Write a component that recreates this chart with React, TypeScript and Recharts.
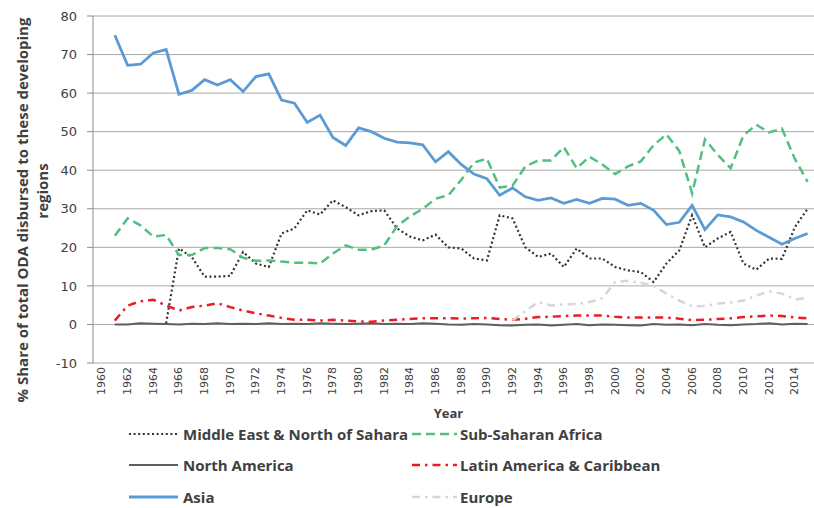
import React from 'react';
import { LineChart, Line, XAxis, YAxis, CartesianGrid } from 'recharts';

const years = [
  1961, 1962, 1963, 1964, 1965, 1966, 1967, 1968, 1969, 1970,
  1971, 1972, 1973, 1974, 1975, 1976, 1977, 1978, 1979, 1980,
  1981, 1982, 1983, 1984, 1985, 1986, 1987, 1988, 1989, 1990,
  1991, 1992, 1993, 1994, 1995, 1996, 1997, 1998, 1999, 2000,
  2001, 2002, 2003, 2004, 2005, 2006, 2007, 2008, 2009, 2010,
  2011, 2012, 2013, 2014, 2015,
];

const middleEast = [
  null, null, null, null, 0.3, 19.7, 17.5, 12.4, 12.4, 12.6,
  18.8, 15.8, 14.9, 23.6, 24.9, 29.6, 28.5, 32.2, 30.4, 28.3,
  29.4, 29.6, 24.9, 22.8, 21.8, 23.3, 20, 19.7, 17.1, 16.6,
  28.3, 27.5, 20, 17.5, 18.4, 14.9, 19.7, 17.1, 17.1, 14.9,
  14, 13.6, 11, 15.8, 19.2, 28.3, 20, 22.3, 24, 15.8,
  14.2, 17.1, 17, 25.2, 30,
];

const subSaharan = [
  23, 27.5, 25.7, 22.8, 23.2, 18, 18, 19.8, 19.8, 19.5,
  17.3, 16.5, 16.6, 16.3, 16, 16, 15.8, 18.4, 20.5, 19.4,
  19.4, 20.5, 25.5, 28, 30, 32.6, 33.5, 37.5, 42, 43,
  35.5, 36, 41, 42.5, 42.5, 46, 40.5, 43.5, 41.5, 39,
  41, 42.3, 46.5, 49.3, 45, 34, 48, 44, 40.5, 49,
  51.8, 49.8, 50.8, 43, 37,
];

const northAmerica = [
  0, 0, 0.3, 0.2, 0.1, 0, 0.2, 0.1, 0.3, 0.1,
  0.2, 0.1, 0.3, 0.1, 0.2, 0.1, 0.3, 0.2, 0.1, 0.2,
  0.3, 0.1, 0.2, 0.1, 0.3, 0.2, 0, -0.1, 0.1, 0,
  -0.2, -0.3, -0.1, 0, -0.3, -0.1, 0.1, -0.2, 0, -0.1,
  -0.2, -0.3, 0.1, -0.1, 0, -0.2, 0.1, -0.1, -0.2, 0,
  0.1, 0.3, 0, 0.2, 0.1,
];

const latinAmerica = [
  1, 4.9, 6, 6.4, 4.9, 3.6, 4.5, 4.9, 5.5, 4.5,
  3.6, 2.9, 2.3, 1.7, 1.2, 1.2, 1, 1.2, 1, 0.8,
  0.7, 1, 1.2, 1.4, 1.6, 1.6, 1.6, 1.5, 1.6, 1.7,
  1.4, 1.2, 1.5, 1.9, 2, 2.2, 2.3, 2.3, 2.3, 2,
  1.8, 1.8, 1.8, 1.8, 1.5, 1.1, 1.2, 1.4, 1.6, 1.9,
  2.1, 2.3, 2.2, 1.8, 1.6,
];

const asia = [
  75, 67.2, 67.5, 70.4, 71.3, 59.7, 60.7, 63.5, 62.1, 63.5,
  60.4, 64.3, 65, 58.2, 57.4, 52.4, 54.3, 48.5, 46.4, 51,
  50, 48.3, 47.3, 47.1, 46.6, 42.2, 44.8, 41.5, 39, 37.8,
  33.5, 35.4, 33.1, 32.2, 32.8, 31.4, 32.4, 31.4, 32.7, 32.5,
  30.9, 31.4, 29.6, 25.9, 26.5, 30.9, 24.6, 28.4, 27.9, 26.6,
  24.4, 22.6, 20.8, 22.3, 23.6,
];

const europe = [
  null, null, null, null, null, null, null, null, null, null,
  null, null, null, null, null, null, null, null, null, null,
  null, null, null, null, null, null, null, null, null, null,
  null, 1, 3.5, 5.8, 4.9, 5.2, 5.3, 5.8, 6.8, 11,
  11.3, 10.8, 10, 8, 6.2, 4.7, 4.8, 5.4, 5.7, 6.2,
  7.5, 8.6, 8, 6.5, 6.8,
];

const xTicks = [
  1960, 1962, 1964, 1966, 1968, 1970, 1972, 1974, 1976, 1978,
  1980, 1982, 1984, 1986, 1988, 1990, 1992, 1994, 1996, 1998,
  2000, 2002, 2004, 2006, 2008, 2010, 2012, 2014,
];
const yTicks = [-10, 0, 10, 20, 30, 40, 50, 60, 70, 80];

const data = years.map((year, i) => ({
  year,
  me: middleEast[i],
  ssa: subSaharan[i],
  na: northAmerica[i],
  la: latinAmerica[i],
  asia: asia[i],
  eu: europe[i],
}));

const series = [
  { key: 'me', name: 'Middle East & North of Sahara', color: '#333333', width: 2.2, dash: '2 2.6' },
  { key: 'ssa', name: 'Sub-Saharan Africa', color: '#52bf80', width: 2.5, dash: '9 5' },
  { key: 'na', name: 'North America', color: '#5f5f5f', width: 2, dash: undefined },
  { key: 'la', name: 'Latin America & Caribbean', color: '#ec1c24', width: 2.5, dash: '8 5 2.5 5' },
  { key: 'asia', name: 'Asia', color: '#5b9bd5', width: 2.8, dash: undefined },
  { key: 'eu', name: 'Europe', color: '#d6d6d6', width: 2.5, dash: '8 5 2.5 5' },
];

const legendOrder = ['me', 'ssa', 'na', 'la', 'asia', 'eu'];

const font = '"Open Sans", Lato, sans-serif';

const XTick = (props: any) => {
  const { x, y, payload } = props;
  return (
    <text
      x={x}
      y={y}
      transform={`rotate(-90 ${x} ${y})`}
      textAnchor="end"
      dominantBaseline="central"
      fontSize={11}
      fontFamily="DejaVu Sans, sans-serif"
      fill="#404040"
    >
      {payload.value}
    </text>
  );
};

const YTitle = () => {
  const cy1 = 210;
  const cy2 = 191;
  return (
    <g fontFamily={font} fontWeight={700} fontSize={15} fill="#404040">
      <text x={22} y={cy1} transform={`rotate(-90 22 ${cy1})`} textAnchor="middle" dominantBaseline="central">
        % Share of total ODA disbursed to these developing
      </text>
      <text x={42} y={cy2} transform={`rotate(-90 42 ${cy2})`} textAnchor="middle" dominantBaseline="central">
        regions
      </text>
    </g>
  );
};

const XTitle = (props: any) => {
  const vb = props.viewBox || { x: 93, y: 363, width: 721, height: 145 };
  const cx = vb.x + vb.width / 2 - 5;
  return (
    <text x={cx} y={413} textAnchor="middle" dominantBaseline="central" fontFamily={font} fontWeight={700} fontSize={13} fill="#404040">
      Year
    </text>
  );
};

const LegendItem = ({ s, left, top, sampleLeft, sampleWidth }: any) => (
  <div style={{ position: 'absolute', left: sampleLeft, top: top - 10, height: 20, display: 'flex', alignItems: 'center' }}>
    <svg width={sampleWidth} height={20} style={{ display: 'block' }}>
      <line x1={0} y1={10} x2={sampleWidth} y2={10} stroke={s.color} strokeWidth={s.width} strokeDasharray={s.dash} />
    </svg>
    <span
      style={{
        position: 'absolute',
        left: left - sampleLeft,
        top: 0,
        lineHeight: '20px',
        whiteSpace: 'nowrap',
        fontFamily: font,
        fontWeight: 700,
        fontSize: 15,
        color: '#404040',
      }}
    >
      {s.name}
    </span>
  </div>
);

export default function App() {
  const rows = [434, 465, 497];
  return (
    <div style={{ position: 'absolute', left: 0, top: 0, width: 814, height: 508, background: '#fff', overflow: 'hidden' }}>
      <LineChart width={814} height={508} data={data} margin={{ top: 16, right: 0, bottom: 0, left: 0 }}>
        <CartesianGrid horizontal vertical={false} stroke="#a8a8a8" strokeWidth={1} />
        <XAxis
          dataKey="year"
          type="number"
          domain={[1959.3, 2015.5]}
          ticks={xTicks}
          interval={0}
          allowDataOverflow
          height={145}
          axisLine={false}
          tickLine={false}
          tickSize={0}
          tickMargin={4}
          tick={<XTick />}
          label={{ content: <XTitle /> }}
        />
        <YAxis
          type="number"
          domain={[-10, 80]}
          ticks={yTicks}
          interval={0}
          width={93}
          axisLine={{ stroke: '#8c8c8c' }}
          tickLine={{ stroke: '#8c8c8c' }}
          tickSize={6}
          tickMargin={10}
          tick={{ fontSize: 13, fontFamily: 'DejaVu Sans, sans-serif', fill: '#404040' }}
          label={{ content: <YTitle /> }}
        />
        {series.map((s) => (
          <Line
            key={s.key}
            dataKey={s.key}
            name={s.name}
            type="linear"
            stroke={s.color}
            strokeWidth={s.width}
            strokeDasharray={s.dash}
            dot={false}
            activeDot={false}
            isAnimationActive={false}
            connectNulls={false}
          />
        ))}
      </LineChart>
      {legendOrder.map((k, i) => {
        const s = series.find((d) => d.key === k);
        const col = i % 2;
        const row = Math.floor(i / 2);
        return (
          <LegendItem
            key={k}
            s={s}
            top={rows[row]}
            left={col === 0 ? 183 : 460}
            sampleLeft={col === 0 ? 129 : 412}
            sampleWidth={col === 0 ? 49 : 45}
          />
        );
      })}
    </div>
  );
}
